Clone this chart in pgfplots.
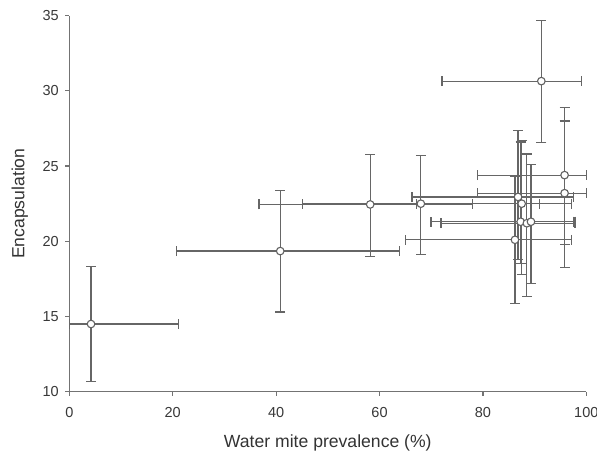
\documentclass[border=0pt]{standalone}
\usepackage{fontspec}
\setmainfont{Liberation Sans}
\usepackage{pgfplots}
\pgfplotsset{compat=1.18}

% prevalence (%) and encapsulation, with the lower/upper lengths of the bars
\pgfplotstableread{
x     y      xm    xp    ym    yp
4.2   14.5   4.2   17.0  3.85  3.85
40.8  19.35  20.1  23.0  4.05  4.05
58.2  22.45  21.5  19.8  3.45  3.3
68.0  22.5   22.9  22.9  3.35  3.2
86.8  22.95  20.5  10.7  4.15  4.4
87.5  22.5   20.3  9.7   4.7   4.2
87.3  21.3   17.3  10.2  2.8   5.3
88.5  21.2   16.6  9.3   4.85  4.6
89.3  21.3   19.4  8.5   4.1   3.8
86.2  20.1   21.1  11.0  4.25  4.2
95.8  24.4   16.8  4.2   4.6   4.5
95.8  23.2   16.8  4.2   4.95  4.8
91.3  30.65  19.2  7.7   4.1   4.05
}\mites

\begin{document}
\begin{tikzpicture}
\begin{axis}[
    scale only axis,
    width=517pt, height=376pt,
    xmin=0, xmax=100, ymin=10, ymax=35,
    xtick={0,20,...,100}, ytick={10,15,...,35},
    axis lines=left,
    axis line style={-, black!55, line width=1.2pt},
    tick style={black!55, line width=1.2pt},
    tick align=outside,
    major tick length=4pt,
    /pgf/number format/assume math mode=true,
    tick label style={font=\fontsize{14.5}{16}\selectfont, text=black!78},
    xticklabel style={yshift=-8pt},
    yticklabel style={xshift=-3pt},
    label style={font=\fontsize{17.6}{20}\selectfont, text=black!80},
    xlabel={Water mite prevalence (\%)},
    ylabel={Encapsulation},
    xlabel style={at={(axis description cs:0.5,-0.1356)}, anchor=center},
    ylabel style={at={(axis description cs:-0.0959,0.5)}, anchor=center},
    clip=false,
]
\addplot[
    only marks,
    mark=*,
    mark size=3.8pt,
    mark options={fill=white, draw=black!62, line width=1.1pt},
    error bars/.cd,
        x dir=both, x explicit,
        y dir=both, y explicit,
        error bar style={black!60, line width=1.15pt},
        error mark options={rotate=90, mark size=5pt, black!60, line width=1.15pt},
] table[x=x, y=y, x error minus=xm, x error plus=xp, y error minus=ym, y error plus=yp] {\mites};
\coordinate (sw) at (rel axis cs:0,0);
\coordinate (ne) at (rel axis cs:1,1);
\end{axis}
\pgfresetboundingbox
\path[use as bounding box] ([xshift=-69.3pt,yshift=-62.3pt]sw) rectangle ([xshift=10.7pt,yshift=15.7pt]ne);
\end{tikzpicture}
\end{document}
